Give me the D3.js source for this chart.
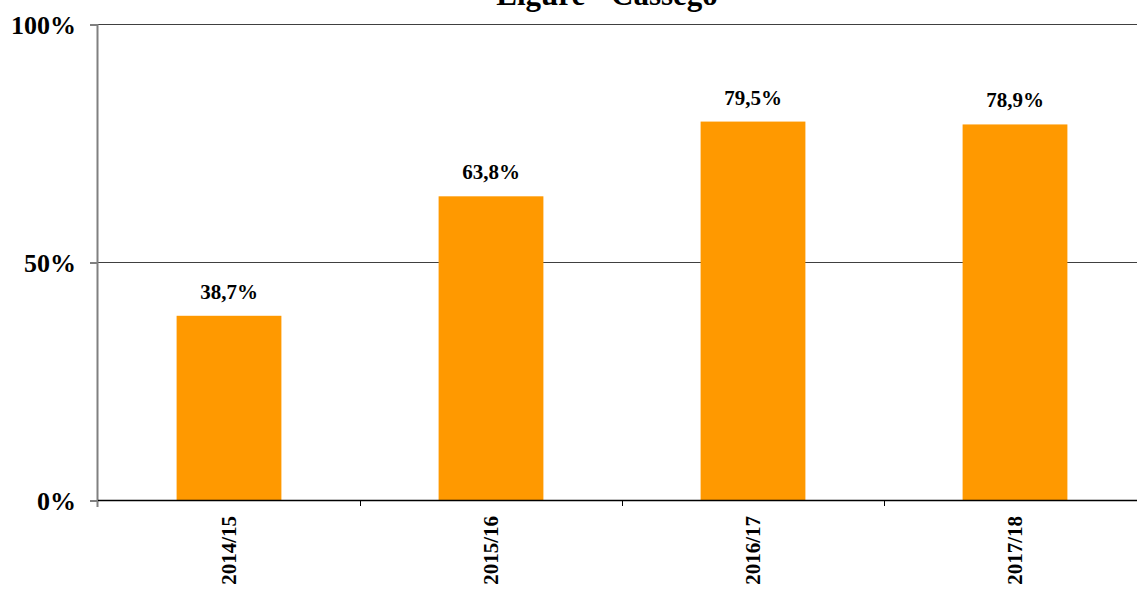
<!DOCTYPE html>
<html>
<head>
<meta charset="utf-8">
<script src="https://cdn.jsdelivr.net/npm/d3@7"></script>
<style>
  html, body { margin: 0; padding: 0; background: #fff; overflow: hidden; }
  text { font-family: "Liberation Serif", "Times New Roman", serif; font-weight: bold; }
</style>
</head>
<body>
<svg id="chart" width="1137" height="592"></svg>
<script>
const title = "Ligure - Cassego";
const categories = ["2014/15", "2015/16", "2016/17", "2017/18"];
const values = [38.7, 63.8, 79.5, 78.9];
const yTicks = [0, 50, 100];

const svg = d3.select("#chart");
const mLeft = 98, mTop = 24, mBottom = 500, mRight = 1146;

const x = d3.scaleBand().domain(categories).range([mLeft, mRight]).paddingInner(0).paddingOuter(0);
const y = d3.scaleLinear().domain([0, 100]).range([mBottom, mTop]);

// gridlines
svg.append("g").selectAll("line").data(yTicks.filter(d => d > 0)).join("line")
  .attr("x1", mLeft).attr("x2", 1137)
  .attr("y1", d => y(d) + 0.5).attr("y2", d => y(d) + 0.5)
  .attr("stroke", "#404040").attr("stroke-width", 1);

// bars
const bw = x.bandwidth() * 0.4;
svg.append("g").selectAll("rect").data(values).join("rect")
  .attr("x", (d, i) => x(categories[i]) + x.bandwidth() / 2 - bw / 2)
  .attr("width", bw)
  .attr("y", d => y(d))
  .attr("height", d => mBottom - y(d))
  .attr("fill", "#ff9900");

// value labels
svg.append("g").selectAll("text").data(values).join("text")
  .attr("x", (d, i) => x(categories[i]) + x.bandwidth() / 2)
  .attr("y", d => y(d) - 17)
  .attr("text-anchor", "middle")
  .attr("font-size", "21px")
  .attr("fill", "#000")
  .text(d => d3.format(".1f")(d).replace(".", ",") + "%");

// y axis
const yAxis = d3.axisLeft(y).tickValues(yTicks).tickSize(8).tickPadding(14)
  .tickFormat(d => d + "%");
const ya = svg.append("g").attr("transform", `translate(${mLeft},0)`).call(yAxis);
ya.select(".domain").remove();
ya.selectAll(".tick line").attr("stroke", "#000").attr("transform", "translate(0,0.5)");
ya.selectAll(".tick text").attr("font-size", "26px").attr("fill", "#000")
  .attr("font-family", "Liberation Serif, serif").attr("font-weight", "bold").attr("dy", "0.35em");
svg.append("line").attr("x1", mLeft - 0.5).attr("x2", mLeft - 0.5).attr("y1", mTop).attr("y2", mBottom + 7)
  .attr("stroke", "#808080").attr("stroke-width", 2);

// x axis
const xa = svg.append("g").attr("transform", `translate(0,${mBottom})`);
xa.append("line").attr("x1", mLeft).attr("x2", 1137).attr("y1", 0.5).attr("y2", 0.5)
  .attr("stroke", "#000").attr("stroke-width", 1.5);
const boundaries = categories.slice(1).map(c => x(c));
xa.selectAll("line.tk").data(boundaries).join("line").attr("class", "tk")
  .attr("x1", d => d + 0.5).attr("x2", d => d + 0.5).attr("y1", 0).attr("y2", 6)
  .attr("stroke", "#000");
xa.selectAll("text").data(categories).join("text")
  .attr("transform", d => `translate(${x(d) + x.bandwidth() / 2 + 7},16) rotate(-90)`)
  .attr("text-anchor", "end")
  .attr("font-size", "21px")
  .attr("fill", "#000")
  .text(d => d);

// title
svg.append("text").attr("x", 607).attr("y", 5).attr("text-anchor", "middle")
  .attr("font-size", "31px").attr("fill", "#000").text(title);
</script>
</body>
</html>
